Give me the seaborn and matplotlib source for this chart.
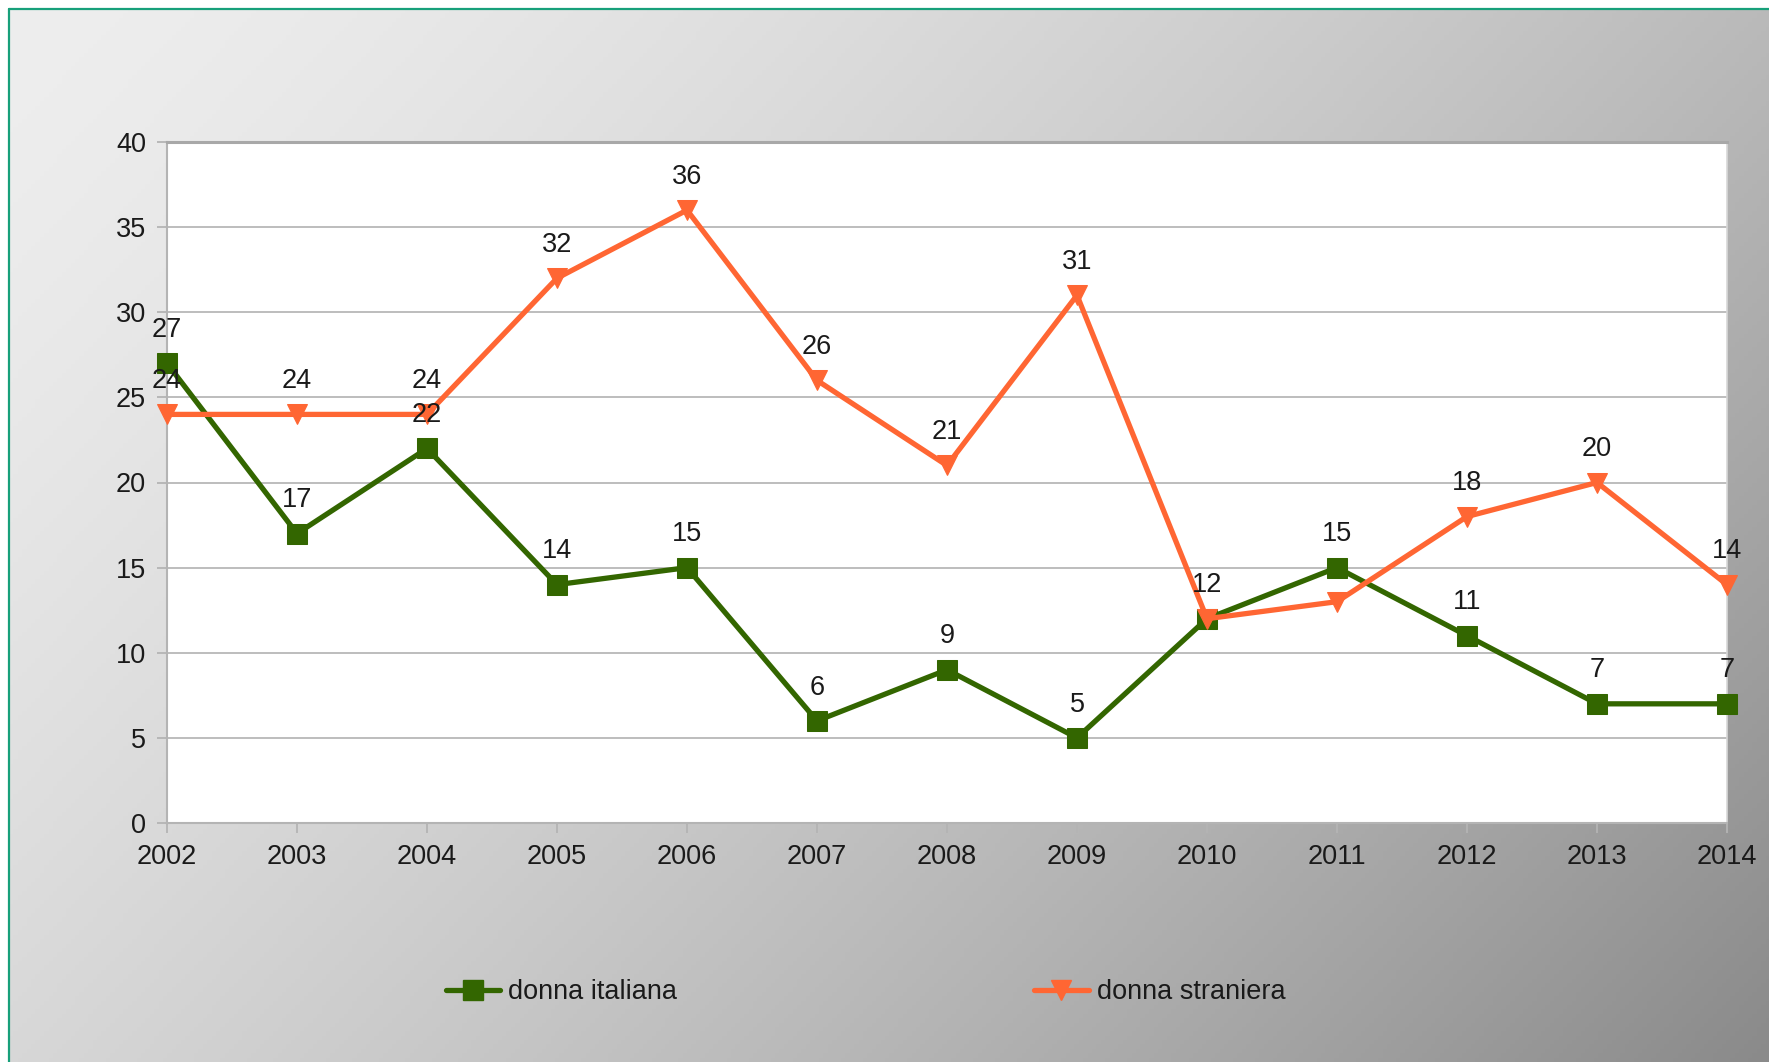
import numpy as np
import pandas as pd
import matplotlib
matplotlib.use("Agg")
import matplotlib.pyplot as plt
from matplotlib import font_manager
from matplotlib.lines import Line2D
import seaborn as sns

years = [2002, 2003, 2004, 2005, 2006, 2007, 2008, 2009, 2010, 2011, 2012, 2013, 2014]
italiana = [27, 17, 22, 14, 15, 6, 9, 5, 12, 15, 11, 7, 7]
straniera = [24, 24, 24, 32, 36, 26, 21, 31, 12, 13, 18, 20, 14]
straniera_labelled = [True, True, True, True, True, True, True, True, False, False, True, True, True]
italiana_labelled = [True] * 13
series_names = ["donna italiana", "donna straniera"]
yticks = [0, 5, 10, 15, 20, 25, 30, 35, 40]

GREEN = "#336600"
ORANGE = "#ff6633"
TXT = "#1a1a1a"

sns.set_theme(style="white")
avail = {f.name for f in font_manager.fontManager.ttflist}
fam = "Liberation Sans Narrow" if "Liberation Sans Narrow" in avail else "Liberation Sans"
plt.rcParams["font.family"] = [fam, "DejaVu Sans"]

W, H = 1769, 1062
fig = plt.figure(figsize=(W / 100, H / 100), dpi=100, facecolor="white")

# gradient background
bx0 = 9 / W
by1 = 1 - 9 / H
bg = fig.add_axes([bx0, 0, 1 - bx0, by1], zorder=-10)
gx = np.linspace(0, 1, 400)
gy = np.linspace(0, 1, 240)
X, Y = np.meshgrid(gx, gy)
t = 0.64 * X + 0.36 * Y
val = (238 - 100 * t ** 1.45) / 255.0
img = np.dstack([val, val, val])
bg.imshow(img, aspect="auto", extent=[0, 1, 1, 0])
bg.set_xlim(0, 1)
bg.set_ylim(1, 0)
bg.axis("off")
fig.add_artist(Line2D([bx0, bx0], [0, by1], transform=fig.transFigure, color="#17a07a", lw=1.6))
fig.add_artist(Line2D([bx0, 1], [by1, by1], transform=fig.transFigure, color="#17a07a", lw=1.6))

left, right = 167 / W, 1727 / W
top, bottom = 1 - 142 / H, 1 - 823 / H
ax = fig.add_axes([left, bottom, right - left, top - bottom])
ax.set_facecolor("white")

df = pd.DataFrame({"anno": years, "italiana": italiana, "straniera": straniera})

LW = 3.8
sns.lineplot(data=df, x="anno", y="italiana", ax=ax, color=GREEN, lw=LW,
             marker="s", markersize=14, markeredgecolor=GREEN, markerfacecolor=GREEN,
             label=series_names[0], legend=False, zorder=3, clip_on=False)
sns.lineplot(data=df, x="anno", y="straniera", ax=ax, color=ORANGE, lw=LW,
             marker="v", markersize=14, markeredgecolor=ORANGE, markerfacecolor=ORANGE,
             label=series_names[1], legend=False, zorder=4, clip_on=False)

FS = 19.5
for x, y, show in zip(years, italiana, italiana_labelled):
    if show:
        ax.annotate(str(y), (x, y), xytext=(0, 24), textcoords="offset points",
                    ha="center", va="center", fontsize=FS, color=TXT, zorder=6,
                    annotation_clip=False)
for x, y, show in zip(years, straniera, straniera_labelled):
    if show:
        ax.annotate(str(y), (x, y), xytext=(0, 24), textcoords="offset points",
                    ha="center", va="center", fontsize=FS, color=TXT, zorder=6,
                    annotation_clip=False)

ax.set_xlim(years[0], years[-1])
ax.set_ylim(0, 40)
ax.set_xticks(years)
ax.set_xticklabels([str(y) for y in years])
ax.set_yticks(yticks)
ax.set_yticklabels([str(v) for v in yticks])
ax.set_xlabel("")
ax.set_ylabel("")
ax.grid(axis="y", color="#bdbdbd", lw=1.4, zorder=0)
ax.grid(axis="x", visible=False)
for s in ["left", "bottom"]:
    ax.spines[s].set_visible(True)
    ax.spines[s].set_color("#b4b4b4")
    ax.spines[s].set_linewidth(1.5)
ax.spines["top"].set_visible(True)
ax.spines["top"].set_color("#a8a8a8")
ax.spines["top"].set_linewidth(2.2)
ax.spines["right"].set_visible(True)
ax.spines["right"].set_color("#d8d8d8")
ax.spines["right"].set_linewidth(1.2)
ax.tick_params(axis="both", which="major", direction="out", length=7, width=1.3,
               color="#b4b4b4", labelsize=FS, labelcolor=TXT, pad=8)
ax.tick_params(axis="y", left=True)
ax.tick_params(axis="x", bottom=True)

handles = [
    Line2D([], [], color=GREEN, lw=LW, marker="s", markersize=14),
    Line2D([], [], color=ORANGE, lw=LW, marker="v", markersize=14),
]
fig.legend(handles, series_names, loc="center left",
           bbox_to_anchor=(432 / W, 1 - 992 / H), ncol=2, frameon=False,
           fontsize=FS, handlelength=2.0, handletextpad=0.3, columnspacing=13.2,
           borderpad=0, labelcolor=TXT)

fig.savefig("out.png", dpi=100, facecolor=fig.get_facecolor())
